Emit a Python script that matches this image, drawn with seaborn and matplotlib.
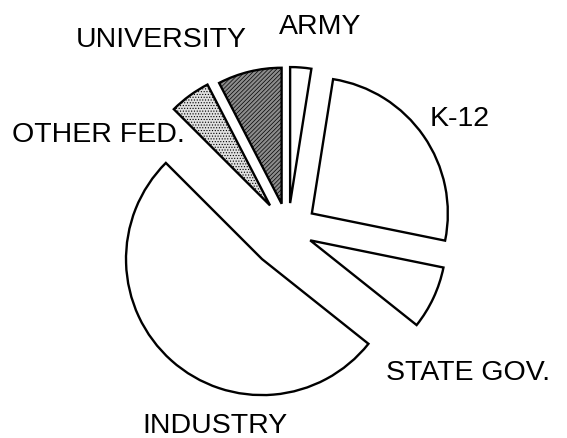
import matplotlib
matplotlib.use("Agg")
import matplotlib.pyplot as plt
import seaborn as sns

sns.set_style("white")
plt.rcParams['font.family'] = ['Liberation Sans', 'DejaVu Sans']
plt.rcParams['hatch.linewidth'] = 0.5

# Data (percent shares), counter-clockwise from ARMY
categories = ["ARMY", "UNIVERSITY", "OTHER FED.", "INDUSTRY", "STATE GOV.", "K-12"]
shares = [2.5, 7.6, 4.9, 51.8, 7.5, 25.7]

# offsets of each wedge from the centre (pixels)
explode = [27, 27, 30.5, 39, 24.5, 29]
facecolors = ["white", "#8c8c8c", "#e0e0e0", "white", "white", "white"]
hatches = [None, "////////", "......", None, None, None]

# label positions (pixel coords, y up, baseline)
label_pos = {
    "ARMY": (279, 404.5),
    "UNIVERSITY": (76, 391),
    "OTHER FED.": (12, 296),
    "INDUSTRY": (142, 5),
    "STATE GOV.": (386, 57.5),
    "K-12": (430, 312),
}

W, H = 567, 438
fig = plt.figure(figsize=(W / 100, H / 100), dpi=100)
ax = fig.add_axes([0, 0, 1, 1])

wedges, _ = ax.pie(
    shares,
    center=(288, 208),
    radius=136,
    startangle=81,
    counterclock=True,
    explode=explode,
    colors=facecolors,
    wedgeprops=dict(edgecolor="black", linewidth=1.7),
)
for w, h in zip(wedges, hatches):
    if h:
        w.set_hatch(h)

for name in categories:
    x, y = label_pos[name]
    ax.text(x, y, name, fontsize=20.5, ha="left", va="baseline", color="black")

ax.set_xlim(0, W)
ax.set_ylim(0, H)
ax.set_aspect("equal")
ax.axis("off")

fig.savefig("out.png", dpi=100, facecolor="white")
